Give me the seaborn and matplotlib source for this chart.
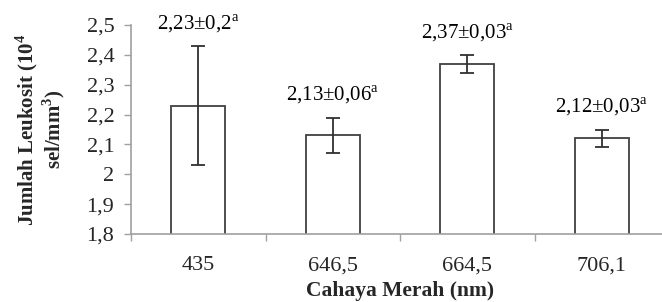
import seaborn as sns
import matplotlib.pyplot as plt
import numpy as np
import pandas as pd

# data
wavelength = ['435', '646,5', '664,5', '706,1']
leukosit = [2.23, 2.13, 2.37, 2.12]
sd = [0.2, 0.06, 0.03, 0.03]
labels = ['2,23±0,2', '2,13±0,06', '2,37±0,03', '2,12±0,03']
yticks = [1.8, 1.9, 2.0, 2.1, 2.2, 2.3, 2.4, 2.5]

sns.set_style("white")
plt.rcParams['font.family'] = ['Liberation Serif', 'DejaVu Serif']
plt.rcParams['mathtext.fontset'] = 'custom'
plt.rcParams['mathtext.rm'] = 'Liberation Serif'
plt.rcParams['mathtext.bf'] = 'Liberation Serif:bold'

df = pd.DataFrame({'Cahaya': wavelength, 'Leukosit': leukosit})

fig = plt.figure(figsize=(6.62, 3.02), dpi=100)
ax = fig.add_axes([131 / 662, 1 - 234 / 302, 538 / 662, 209 / 302])

sns.barplot(data=df, x='Cahaya', y='Leukosit', ax=ax, color='white',
            edgecolor='#404040', linewidth=1.3, width=0.4, errorbar=None)
ax.errorbar(np.arange(len(leukosit)), leukosit, yerr=sd, fmt='none',
            ecolor='#303030', elinewidth=1.3, capsize=5, capthick=1.3)

for i, (v, e, t) in enumerate(zip(leukosit, sd, labels)):
    ax.text(i, v + e + 0.075, t + r'$^{\mathrm{a}}$', ha='center', va='center',
            fontsize=15, color='black')

ax.set_ylim(1.8, 2.5)
ax.set_xlim(-0.5, len(wavelength) - 0.5)
ax.set_yticks(yticks)
ax.set_yticklabels([('%g' % t).replace('.', ',') for t in yticks])
ax.set_xticks(np.arange(-0.5, len(wavelength)), minor=True)

ax.tick_params(axis='y', which='major', direction='out', length=5, width=1,
               color='#a0a0a0', labelsize=16, pad=7, left=True)
ax.tick_params(axis='x', which='major', length=0, labelsize=16, pad=16)
ax.tick_params(axis='x', which='minor', direction='out', length=5, width=1,
               color='#a0a0a0', bottom=True)

sns.despine(ax=ax, top=True, right=True)
for s in ['left', 'bottom']:
    ax.spines[s].set_color('#a0a0a0')
    ax.spines[s].set_linewidth(1.2)

ax.set_xlabel('Cahaya Merah (nm)', fontsize=15.5, fontweight='bold', labelpad=4)
ax.set_ylabel('Jumlah Leukosit (10$^{\\mathbf{4}}$\nsel/mm$^{\\mathbf{3}}$)',
              fontsize=15, fontweight='bold', labelpad=14, linespacing=1.05)

fig.savefig('out.png', dpi=100)
